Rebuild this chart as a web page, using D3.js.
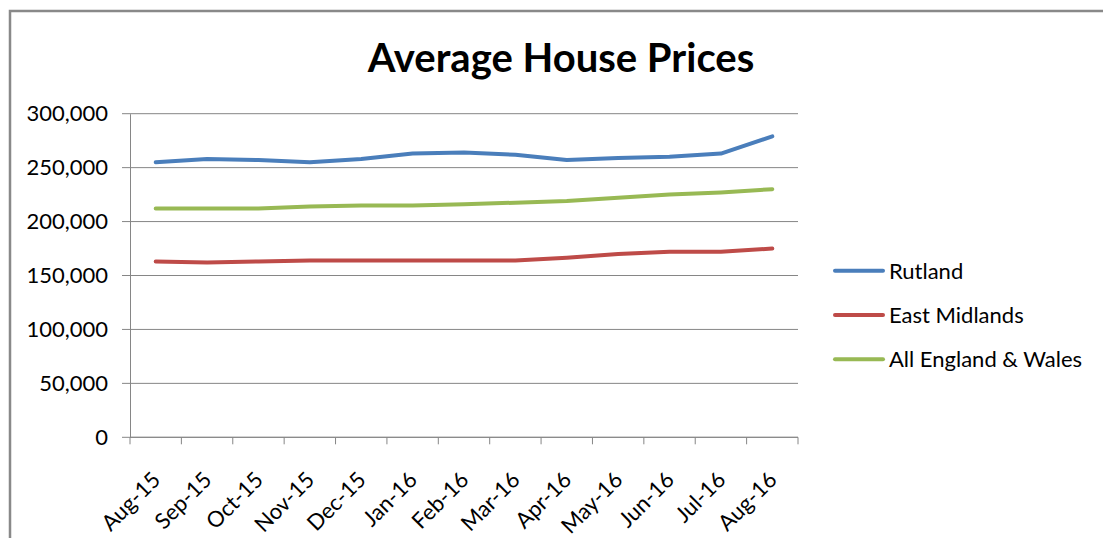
<!DOCTYPE html>
<html>
<head>
<meta charset="utf-8">
<script src="https://cdn.jsdelivr.net/npm/d3@7"></script>
<style>
	body { margin:0; background:#fff; }
	text { font-family: Lato, "Open Sans", sans-serif; fill:#000; }
</style>
</head>
<body>
<div id="chart"></div>
<script>
var months = ['Aug-15','Sep-15','Oct-15','Nov-15','Dec-15','Jan-16','Feb-16','Mar-16','Apr-16','May-16','Jun-16','Jul-16','Aug-16'];
var rutland = [255000,258000,257000,255000,258000,263000,264000,262000,257000,259000,260000,263000,279000];
var eastMidlands = [163000,162000,163000,164000,164000,164000,164000,164000,166500,170000,172000,172000,175000];
var englandWales = [212000,212000,212000,214000,215000,215000,216000,217500,219000,222000,225000,227000,230000];
var seriesNames = ['Rutland','East Midlands','All England & Wales'];
var seriesColors = ['#4a7ebb','#be4b48','#98b954'];
var yTicks = [0,50000,100000,150000,200000,250000,300000];

var c = {
	w:1103,
	h:538,
	plot: {l:130,r:798,t:113.7,b:437.3},
	svg:null
}

c.svg = d3.select('#chart').append('svg')
			.attr('width', c.w)
			.attr('height', c.h);

// chart frame (right and bottom edges run off the picture)
c.svg.append('rect')
		.attr('x', 10)
		.attr('y', 11)
		.attr('width', c.w + 20)
		.attr('height', c.h + 20)
		.attr('fill', '#fff')
		.attr('stroke', '#898989')
		.attr('stroke-width', 2.5);

c.svg.append('text')
		.attr('x', 561)
		.attr('y', 72)
		.attr('text-anchor', 'middle')
		.attr('font-size', 40)
		.attr('font-weight', 'bold')
		.text('Average House Prices');

var x_scale = d3.scaleBand()
				.domain(months)
				.range([c.plot.l, c.plot.r]);

var y_scale = d3.scaleLinear()
				.domain([0, 300000])
				.range([c.plot.b, c.plot.t]);

// gridlines
c.svg.append('g')
		.attr('class', 'grid')
		.selectAll('line')
		.data(yTicks)
		.enter()
		.append('line')
			.attr('x1', c.plot.l - 8)
			.attr('x2', c.plot.r)
			.attr('y1', d=>y_scale(d))
			.attr('y2', d=>y_scale(d))
			.attr('stroke', '#868686')
			.attr('stroke-width', 1);

var y_axis = d3.axisLeft(y_scale).tickValues(yTicks).tickSize(0).tickPadding(22)
				.tickFormat(d3.format(','));

c.svg.append('g')
		.attr('class', 'axis y')
		.attr('transform', 'translate('+c.plot.l+',0)')
		.call(y_axis)
		.call(g => g.select('.domain').attr('stroke', '#868686'))
		.call(g => g.selectAll('text').attr('font-size', 22).attr('font-family', 'Lato').attr('fill', '#000'));

// x axis: ticks sit on the band edges
var edges = months.map(d=>x_scale(d)).concat([c.plot.r]);
c.svg.append('line')
		.attr('x1', c.plot.l)
		.attr('x2', c.plot.r)
		.attr('y1', c.plot.b)
		.attr('y2', c.plot.b)
		.attr('stroke', '#868686');
c.svg.append('g')
		.selectAll('line')
		.data(edges)
		.enter()
		.append('line')
			.attr('x1', d=>d)
			.attr('x2', d=>d)
			.attr('y1', c.plot.b)
			.attr('y2', c.plot.b + 7)
			.attr('stroke', '#868686');

c.svg.append('g')
		.attr('class', 'x-labels')
		.selectAll('text')
		.data(months)
		.enter()
		.append('text')
			.attr('text-anchor', 'end')
			.attr('font-size', 22)
			.attr('transform', d=>'translate('+(x_scale(d)+x_scale.bandwidth()/2+6)+','+(c.plot.b+44)+') rotate(-45)')
			.text(d=>d);

var seriesData = [rutland, eastMidlands, englandWales];

var line = d3.line()
				.x((d,i)=>x_scale(months[i]) + x_scale.bandwidth()/2)
				.y(d=>y_scale(d));

c.svg.append('g')
		.attr('class', 'lines')
		.selectAll('path')
		.data(seriesData)
		.enter()
		.append('path')
			.attr('d', d=>line(d))
			.attr('fill', 'none')
			.attr('stroke', (d,i)=>seriesColors[i])
			.attr('stroke-width', 4)
			.attr('stroke-linejoin', 'round')
			.attr('stroke-linecap', 'round');

var legend = c.svg.append('g')
				.attr('class', 'legend')
				.selectAll('g')
				.data(seriesNames)
				.enter()
				.append('g')
					.attr('transform', (d,i)=>'translate(835,'+(270.7 + i*44.3)+')');
legend.append('line')
		.attr('x1', 0)
		.attr('x2', 48)
		.attr('stroke', (d,i)=>seriesColors[i])
		.attr('stroke-width', 4)
		.attr('stroke-linecap', 'round');
legend.append('text')
		.attr('x', 54)
		.attr('dy', '0.36em')
		.attr('font-size', 22)
		.text(d=>d);
</script>
</body>
</html>
